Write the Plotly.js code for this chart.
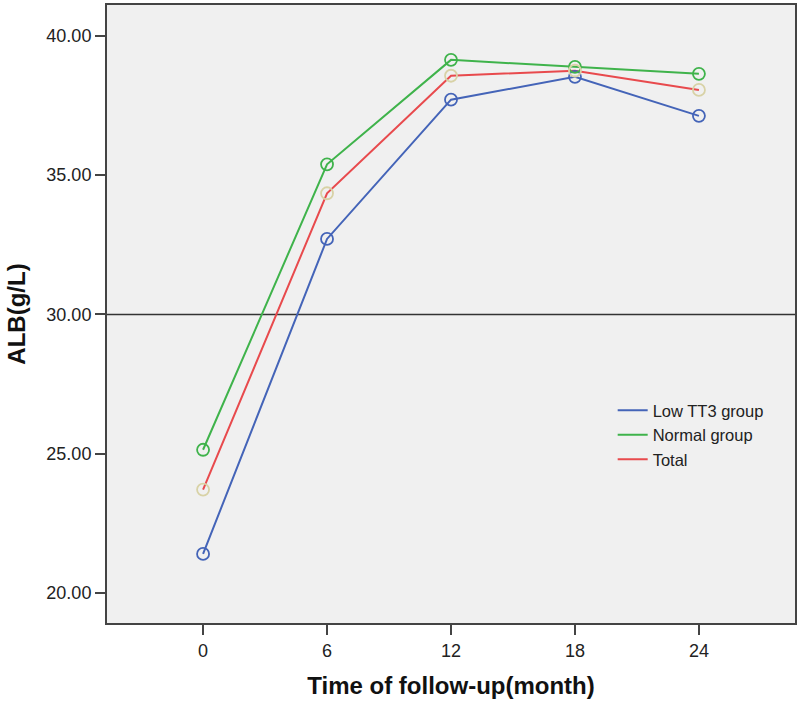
<!DOCTYPE html>
<html>
<head>
<meta charset="utf-8">
<script src="https://cdn.plot.ly/plotly-3.0.1.min.js"></script>
<style>html,body{margin:0;padding:0;background:#fff;}#chart{width:800px;height:707px;}</style>
</head>
<body>
<div id="chart"></div>
<script>
const months = [0, 6, 12, 18, 24];
const lowTT3 = [21.40, 32.71, 37.71, 38.53, 37.13];
const normalGroup = [25.14, 35.39, 39.14, 38.89, 38.64];
const total = [23.71, 34.35, 38.57, 38.75, 38.06];
const seriesNames = ["Low TT3 group", "Normal group", "Total"];
const yTicks = [20, 25, 30, 35, 40];
const yTickLabels = ["20.00", "25.00", "30.00", "35.00", "40.00"];
const refLine = 30;

const series = [
  {name: seriesNames[0], y: lowTT3, line: '#4464b8', marker: '#4464b8'},
  {name: seriesNames[1], y: normalGroup, line: '#3fb34b', marker: '#3fb34b'},
  {name: seriesNames[2], y: total, line: '#e84a4d', marker: '#d8d2a6'}
];
const data = [];
series.forEach(s => {
  data.push({x: months, y: s.y, name: s.name, type: 'scatter', mode: 'lines',
    line: {color: s.line, width: 2}, showlegend: true, legendgroup: s.name});
});
series.forEach(s => {
  data.push({x: months, y: s.y, name: s.name, type: 'scatter', mode: 'markers',
    marker: {symbol: 'circle-open', size: 12, color: s.marker, line: {width: 1.8, color: s.marker}},
    showlegend: false, legendgroup: s.name});
});
const titleFont = {size: 24, color: '#111', family: 'Liberation Sans, Arial, sans-serif', weight: 'bold'};
const layout = {
  width: 800, height: 707,
  margin: {l: 107, r: 5, t: 5, b: 84},
  paper_bgcolor: '#ffffff', plot_bgcolor: '#f0f0f0',
  font: {family: 'Liberation Sans, Arial, sans-serif', color: '#222', size: 18},
  showlegend: true,
  legend: {x: 0.735, y: 0.372, xanchor: 'left', yanchor: 'top', bgcolor: 'rgba(0,0,0,0)', font: {size: 16.5, color: '#222'}, itemwidth: 30, tracegroupgap: 0},
  xaxis: {
    range: [-4.65, 28.65], tickvals: months, ticktext: months.map(String),
    showgrid: false, zeroline: false, showline: true, mirror: true, linecolor: '#444', linewidth: 2,
    ticks: 'outside', ticklen: 10, tickwidth: 2, tickcolor: '#444',
    tickfont: {size: 18, color: '#222'},
    title: {text: 'Time of follow-up(month)', font: titleFont, standoff: 18}
  },
  yaxis: {
    range: [18.92, 41.11], tickvals: yTicks, ticktext: yTickLabels,
    showgrid: false, zeroline: false, showline: true, mirror: true, linecolor: '#444', linewidth: 2,
    ticks: 'outside', ticklen: 10, tickwidth: 2, tickcolor: '#444',
    tickfont: {size: 18, color: '#222'},
    title: {text: 'ALB(g/L)', font: titleFont, standoff: 14}
  },
  shapes: [{type: 'line', xref: 'paper', x0: 0, x1: 1, yref: 'y', y0: refLine, y1: refLine, line: {color: '#333', width: 1.5}, layer: 'below'}]
};
Plotly.newPlot('chart', data, layout, {displayModeBar: false, staticPlot: true});
</script>
</body>
</html>
